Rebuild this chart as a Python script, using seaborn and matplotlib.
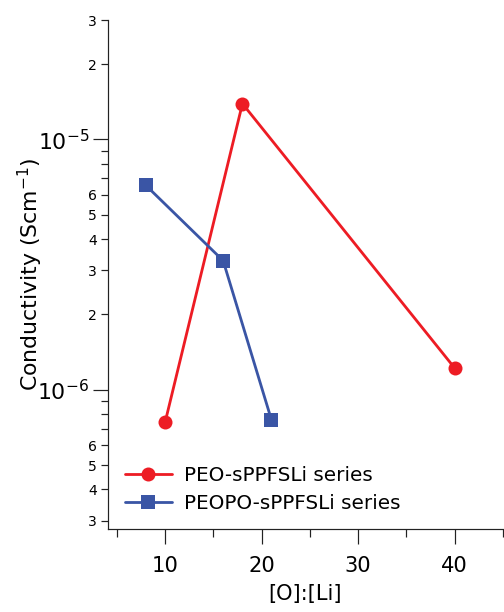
import numpy as np
import pandas as pd
import matplotlib
matplotlib.use('Agg')
import matplotlib.pyplot as plt
import matplotlib.ticker as mticker
import seaborn as sns

sns.set_style('ticks')
plt.rcParams['font.family'] = ['DejaVu Sans']
plt.rcParams['mathtext.default'] = 'regular'
plt.rcParams['text.color'] = 'black'
plt.rcParams['axes.labelcolor'] = 'black'
plt.rcParams['xtick.color'] = '#222222'
plt.rcParams['ytick.color'] = '#222222'
plt.rcParams['xtick.labelcolor'] = 'black'
plt.rcParams['ytick.labelcolor'] = 'black'

# values
peo_ratio = [10, 18, 40]
peo_cond = [7.45e-7, 1.39e-5, 1.22e-6]
peopo_ratio = [8, 16, 21]
peopo_cond = [6.55e-6, 3.28e-6, 7.6e-7]
series_names = ['PEO-sPPFSLi series', 'PEOPO-sPPFSLi series']

df = pd.concat([
    pd.DataFrame({'ratio': peo_ratio, 'cond': peo_cond, 'series': series_names[0]}),
    pd.DataFrame({'ratio': peopo_ratio, 'cond': peopo_cond, 'series': series_names[1]}),
], ignore_index=True)

W, H = 504, 612
fig = plt.figure(figsize=(W / 72, H / 72), dpi=72)
ax = fig.add_axes([108 / W, 1 - 529 / H, (503 - 108) / W, (529 - 20) / H])

palette = {series_names[0]: '#ED1C24', series_names[1]: '#3A55A5'}
markers = {series_names[0]: 'o', series_names[1]: 's'}
sns.lineplot(data=df, x='ratio', y='cond', hue='series', style='series',
             palette=palette, markers=markers, dashes=False, sort=False,
             linewidth=2.8, markersize=14, markeredgewidth=0, ax=ax)

ax.set_yscale('log')
ax.set_ylim(2.78e-7, 3e-5)
ax.set_xlim(4.07, 45)

# x ticks
ax.xaxis.set_major_locator(mticker.MultipleLocator(10))
ax.xaxis.set_minor_locator(mticker.MultipleLocator(5))
ax.tick_params(axis='x', which='major', length=15, width=1.2, labelsize=21, pad=12)
ax.tick_params(axis='x', which='minor', length=8, width=1.2)

# y ticks
ax.yaxis.set_major_locator(mticker.LogLocator(base=10, subs=(1.0,)))
ax.yaxis.set_minor_locator(mticker.LogLocator(base=10, subs=np.arange(2, 10)))

def major_fmt(v, pos):
    return r'$10^{%d}$' % int(round(np.log10(v)))

def minor_fmt(v, pos):
    m = v / 10 ** np.floor(np.log10(v) + 1e-9)
    m = int(round(m))
    return str(m) if m in (2, 3, 4, 5, 6) else ''

ax.yaxis.set_major_formatter(mticker.FuncFormatter(major_fmt))
ax.yaxis.set_minor_formatter(mticker.FuncFormatter(minor_fmt))
ax.tick_params(axis='y', which='major', length=15, width=1.2, labelsize=22, pad=4)
ax.tick_params(axis='y', which='minor', length=7, width=1.2, labelsize=14, pad=4)

for s in ['top', 'right']:
    ax.spines[s].set_visible(False)
for s in ['left', 'bottom']:
    ax.spines[s].set_linewidth(1.2)
    ax.spines[s].set_color('#222222')

ax.set_xlabel('[O]:[Li]', fontsize=21)
ax.xaxis.set_label_coords(0.5, -0.108)
ax.set_ylabel(r'Conductivity (Scm$^{-1}$)', fontsize=22)
ax.yaxis.set_label_coords(-0.16, 0.5)

leg = ax.legend(loc='upper left', bbox_to_anchor=(0.043, 0.124), frameon=False,
                fontsize=20, handlelength=2.35, handletextpad=0.6, labelspacing=0.48,
                borderpad=0, borderaxespad=0, title=None)
for h in leg.legend_handles:
    h.set_markersize(14)
    h.set_linewidth(2.8)

fig.savefig('out.png', dpi=72)
